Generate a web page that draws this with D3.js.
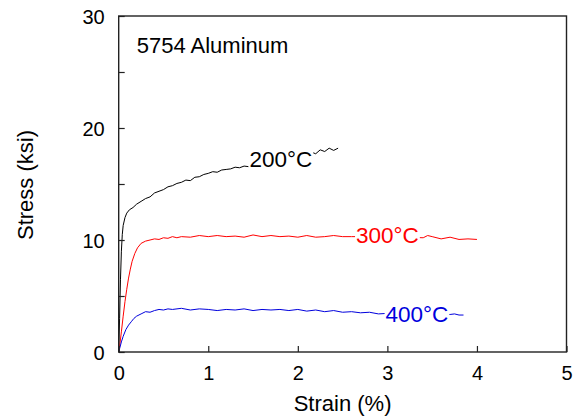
<!DOCTYPE html>
<html>
<head>
<meta charset="utf-8">
<script src="https://cdn.jsdelivr.net/npm/d3@7"></script>
<style>
  body { margin: 0; background: #fff; }
  text { font-family: "Liberation Sans", Arial, Helvetica, sans-serif; }
</style>
</head>
<body>
<div id="chart"></div>
<script>
// Data
var strain200 = [0, 0.01, 0.02, 0.03, 0.04, 0.05, 0.07, 0.09, 0.12, 0.16, 0.2, 0.25, 0.3, 0.35, 0.4, 0.45, 0.5, 0.55, 0.6, 0.65, 0.7, 0.75, 0.8, 0.85, 0.9, 0.95, 1.0, 1.05, 1.1, 1.15, 1.2, 1.25, 1.3, 1.35, 1.4, 1.45, 1.5, 1.7, 1.9, 2.1, 2.15, 2.2, 2.25, 2.3, 2.35, 2.4, 2.45];
var stress200 = [0, 3, 6.5, 9, 10.5, 11.3, 12.0, 12.4, 12.7, 12.9, 13.2, 13.45, 13.7, 13.85, 14.2, 14.35, 14.5, 14.75, 14.85, 15.05, 15.15, 15.35, 15.3, 15.6, 15.65, 15.85, 15.95, 16.1, 16.05, 16.25, 16.3, 16.35, 16.5, 16.45, 16.6, 16.55, 16.7, 17.0, 17.3, 17.6, 17.85, 17.7, 18.05, 17.9, 18.2, 18.0, 18.2];

var strain300 = [0, 0.01, 0.03, 0.05, 0.07, 0.09, 0.11, 0.13, 0.15, 0.18, 0.21, 0.25, 0.3, 0.35, 0.4, 0.45, 0.5, 0.55, 0.6, 0.65, 0.7, 0.8, 0.9, 1.0, 1.1, 1.2, 1.3, 1.4, 1.5, 1.6, 1.7, 1.8, 1.9, 2.0, 2.1, 2.2, 2.3, 2.4, 2.5, 2.6, 3.0, 3.4, 3.45, 3.5, 3.6, 3.7, 3.8, 3.9, 4.0];
var stress300 = [0, 0.5, 1.8, 3.2, 4.5, 5.6, 6.6, 7.4, 8.1, 8.8, 9.3, 9.7, 9.9, 10.0, 10.1, 10.05, 10.2, 10.15, 10.3, 10.2, 10.3, 10.25, 10.4, 10.3, 10.4, 10.3, 10.35, 10.25, 10.45, 10.3, 10.4, 10.3, 10.35, 10.25, 10.4, 10.25, 10.3, 10.4, 10.3, 10.3, 10.3, 10.2, 10.4, 10.3, 10.1, 10.25, 10.05, 10.1, 10.05];

var strain400 = [0, 0.01, 0.03, 0.05, 0.08, 0.11, 0.14, 0.17, 0.2, 0.25, 0.3, 0.35, 0.4, 0.45, 0.5, 0.55, 0.6, 0.7, 0.8, 0.9, 1.0, 1.1, 1.2, 1.3, 1.4, 1.5, 1.6, 1.7, 1.8, 1.9, 2.0, 2.1, 2.2, 2.3, 2.4, 2.5, 2.6, 2.7, 2.8, 2.9, 3.0, 3.7, 3.75, 3.8, 3.85];
var stress400 = [0, 0.3, 0.9, 1.4, 2.0, 2.4, 2.7, 3.0, 3.2, 3.4, 3.6, 3.55, 3.7, 3.8, 3.75, 3.85, 3.8, 3.9, 3.75, 3.85, 3.8, 3.7, 3.8, 3.75, 3.85, 3.7, 3.8, 3.75, 3.8, 3.7, 3.8, 3.65, 3.75, 3.6, 3.7, 3.55, 3.6, 3.5, 3.55, 3.4, 3.45, 3.35, 3.4, 3.3, 3.3];

var seriesNames = ["200°C", "300°C", "400°C"];
var seriesColors = ["#000000", "#ff0000", "#0000dd"];
var labelStrain = [1.46, 2.65, 2.98];
var labelStress = [16.5, 9.75, 2.7];

var xTicks = [0, 1, 2, 3, 4, 5];
var yTicks = [0, 5, 10, 15, 20, 25, 30];
var yTickLabels = [0, 10, 20, 30];

// Set SVG dimensions
var svgWidth = 583;
var svgHeight = 418;

var chartMargin = { top: 16, right: 16.5, bottom: 66, left: 118.7 };
var chartWidth = svgWidth - chartMargin.left - chartMargin.right;
var chartHeight = svgHeight - chartMargin.top - chartMargin.bottom;

var svg = d3.select("#chart")
    .append("svg")
    .attr("width", svgWidth)
    .attr("height", svgHeight);

var chartGroup = svg.append("g")
    .attr("transform", `translate(${chartMargin.left},${chartMargin.top})`);

var xScale = d3.scaleLinear().domain([0, 5]).range([0, chartWidth]);
var yScale = d3.scaleLinear().domain([0, 30]).range([chartHeight, 0]);

// Curves
var series = [
    { x: strain200, y: stress200 },
    { x: strain300, y: stress300 },
    { x: strain400, y: stress400 }
];

var line = d3.line()
    .x(d => xScale(d[0]))
    .y(d => yScale(d[1]));

series.forEach(function(s, i) {
    var pts = s.x.map((v, j) => [v, s.y[j]]);
    chartGroup.append("path")
        .datum(pts)
        .attr("fill", "none")
        .attr("stroke", seriesColors[i])
        .attr("stroke-width", 1)
        .attr("stroke-linejoin", "round")
        .attr("d", line);
});

// Curve labels with white backing
seriesNames.forEach(function(name, i) {
    var g = chartGroup.append("g");
    var t = g.append("text")
        .attr("x", xScale(labelStrain[i]))
        .attr("y", yScale(labelStress[i]))
        .attr("fill", seriesColors[i])
        .style("font-size", "22.5px")
        .text(name);
    var bb = t.node().getBBox();
    g.insert("rect", "text")
        .attr("x", bb.x - 1)
        .attr("y", bb.y + 3)
        .attr("width", bb.width + 2)
        .attr("height", bb.height - 6)
        .attr("fill", "#fff");
});

// Axes with inward ticks
var xAxis = d3.axisBottom(xScale).tickValues(xTicks).tickSize(-6).tickPadding(14).tickFormat(d3.format("d"));
var yAxis = d3.axisLeft(yScale).tickValues(yTicks).tickSize(-6).tickPadding(14)
    .tickFormat(d => yTickLabels.includes(d) ? d : "");

var gx = chartGroup.append("g")
    .attr("transform", `translate(0,${chartHeight})`)
    .call(xAxis);
var gy = chartGroup.append("g").call(yAxis);

[gx, gy].forEach(function(g) {
    g.select(".domain").remove();
    g.selectAll("line").attr("stroke", "#222").attr("stroke-width", 1.2);
    g.selectAll("text")
        .attr("fill", "#000")
        .style("font-size", "20px")
        .style("font-family", "'Liberation Sans', Arial, sans-serif");
});
gy.selectAll("text").attr("dy", "0.35em");

// Frame
chartGroup.append("rect")
    .attr("width", chartWidth)
    .attr("height", chartHeight)
    .attr("fill", "none")
    .attr("stroke", "#222")
    .attr("stroke-width", 1.4);

// Title inside the plot
chartGroup.append("text")
    .attr("x", 18)
    .attr("y", 37)
    .style("font-size", "22px")
    .text("5754 Aluminum");

// Axis titles
chartGroup.append("text")
    .attr("x", chartWidth / 2)
    .attr("y", chartHeight + 59)
    .attr("text-anchor", "middle")
    .style("font-size", "22px")
    .text("Strain (%)");

chartGroup.append("text")
    .attr("transform", "rotate(-90)")
    .attr("x", -(chartHeight / 2 + 1))
    .attr("y", -chartMargin.left + 33)
    .attr("text-anchor", "middle")
    .style("font-size", "22px")
    .text("Stress (ksi)");
</script>
</body>
</html>
